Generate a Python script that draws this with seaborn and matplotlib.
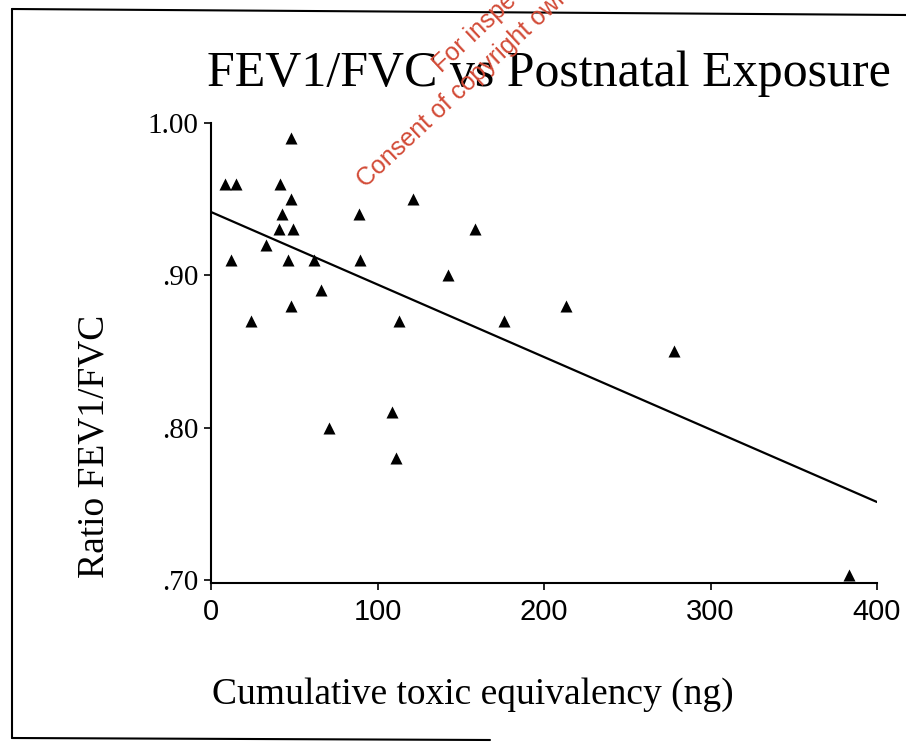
import matplotlib
matplotlib.use('Agg')
import matplotlib.pyplot as plt
from matplotlib.lines import Line2D
import seaborn as sns
import pandas as pd

# exposure (ng) and FEV1/FVC ratio
exposure = [48.3, 8.7, 15.3, 41.3, 48.3, 42.7, 88.7, 121.5, 40.9, 49.3,
            32.9, 12.1, 46.3, 61.8, 89.4, 66.3, 48.3, 23.9, 113.0, 108.9,
            70.9, 111.3, 158.8, 142.1, 213.2, 175.8, 278.2, 383.4]
ratio = [0.99, 0.96, 0.96, 0.96, 0.95, 0.94, 0.94, 0.95, 0.93, 0.93,
         0.92, 0.91, 0.91, 0.91, 0.91, 0.89, 0.88, 0.87, 0.87, 0.81,
         0.80, 0.78, 0.93, 0.90, 0.88, 0.87, 0.85, 0.703]

x_ticks = [0, 100, 200, 300, 400]
y_ticks = [0.70, 0.80, 0.90, 1.00]
y_tick_labels = ['.70', '.80', '.90', '1.00']

df = pd.DataFrame({'exposure': exposure, 'ratio': ratio})

sns.set_theme(style='ticks')
plt.rcParams['font.family'] = ['Liberation Serif', 'DejaVu Serif']

W, H = 906, 743
fig = plt.figure(figsize=(W / 100, H / 100), dpi=100)
ax = fig.add_axes([211 / W, 1 - 583 / H, 666 / W, (583 - 122.7) / H])
ax.set_xlim(0, 400)
ax.set_ylim(0.698, 1.0)

sns.regplot(data=df, x='exposure', y='ratio', ax=ax, ci=None, truncate=False,
            marker='^', color='black',
            scatter_kws={'s': 75, 'linewidths': 0, 'alpha': 1},
            line_kws={'linewidth': 1.6, 'color': 'black'})

sns.despine(ax=ax)
for side in ['left', 'bottom']:
    ax.spines[side].set_linewidth(1.5)
    ax.spines[side].set_color('black')

ax.set_xticks(x_ticks)
ax.set_xticklabels([str(t) for t in x_ticks],
                   family=['Liberation Sans Narrow', 'Liberation Sans'], fontsize=21)
ax.set_yticks(y_ticks)
ax.set_yticklabels(y_tick_labels, fontsize=21)
ax.tick_params(direction='out', length=5, width=1.2, colors='black', pad=4)
ax.tick_params(axis='x', pad=6)

ax.set_xlabel('Cumulative toxic equivalency (ng)', fontsize=27, color='black')
ax.xaxis.set_label_coords(0.3926, -0.205)
ax.set_ylabel('Ratio FEV1/FVC', fontsize=27, color='black')
ax.yaxis.set_label_coords(-0.15, 0.296)

fig.text(549 / W, 1 - 86 / H, 'FEV1/FVC vs Postnatal Exposure', fontsize=36,
         ha='center', va='baseline', color='black')

# red watermark stamped across the scan
wm_color = '#d24a36'
fig.text(442 / W, 1 - 73 / H, 'For inspection purposes only.', fontsize=18,
         family=['Liberation Sans', 'DejaVu Sans'], color=wm_color,
         rotation=43, rotation_mode='anchor', ha='left', va='baseline')
fig.text(366 / W, 1 - 188 / H, 'Consent of copyright owner required for any other use.',
         fontsize=18, family=['Liberation Sans', 'DejaVu Sans'], color=wm_color,
         rotation=43, rotation_mode='anchor', ha='left', va='baseline')

# border of the scanned page
frame_kw = dict(transform=fig.transFigure, color='black', linewidth=1.5)
fig.add_artist(Line2D([12 / W, 1], [1 - 9 / H, 1 - 15 / H], **frame_kw))
fig.add_artist(Line2D([12 / W, 12 / W], [1 - 9 / H, 1 - 738 / H], **frame_kw))
fig.add_artist(Line2D([12 / W, 490 / W], [1 - 738 / H, 1 - 740 / H], **frame_kw))

fig.savefig('out.png', dpi=100)
